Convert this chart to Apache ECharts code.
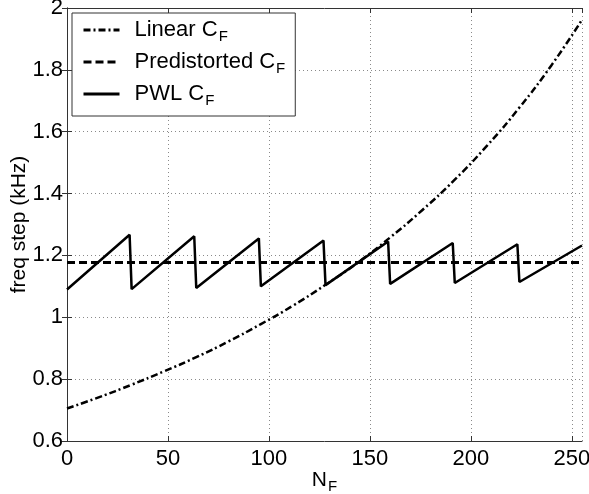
<!DOCTYPE html>
<html>
<head>
<meta charset="utf-8">
<script src="https://cdn.jsdelivr.net/npm/echarts@6/dist/echarts.min.js"></script>
<style>html,body{margin:0;padding:0;background:#fff}#c{width:589px;height:494px}</style>
</head>
<body>
<div id="c"></div>
<script>
// x positions (N_F) and values (freq step, kHz)
var linearX = [0,16,32,48,64,80,96,112,128,144,160,176,192,208,224,240,255];
var linearY = [0.705,0.742,0.782,0.825,0.871,0.922,0.978,1.038,1.105,1.177,1.258,1.347,1.445,1.555,1.678,1.816,1.962];
var predistX = [0,255];
var predistY = [1.177,1.177];
var pwlX = [0,31,32,63,64,95,96,127,128,159,160,191,192,223,224,255];
var pwlY = [1.090,1.267,1.091,1.262,1.095,1.255,1.100,1.248,1.104,1.245,1.108,1.240,1.111,1.236,1.114,1.232];
var xTicks = [0,50,100,150,200,250];
var yTicks = [0.6,0.8,1,1.2,1.4,1.6,1.8,2];
var names = ['Linear', 'Predistorted', 'PWL'];

function zip(xs, ys){ return xs.map(function(x,i){ return [x, ys[i]]; }); }

var FONT = 'Liberation Sans, Arial, Helvetica, sans-serif';
var chart = echarts.init(document.getElementById('c'), null, {renderer:'canvas'});
var gridLine = {show:true, lineStyle:{color:'#8a8a8a', width:1, type:[1,3]}};
var axisLine = {show:true, lineStyle:{color:'#333', width:1}};
chart.setOption({
  animation:false,
  backgroundColor:'#fff',
  grid:{left:67, right:7, top:8, bottom:53, containLabel:false, outerBoundsMode:'none'},
  legend:{
    orient:'vertical', left:72, top:13,
    data:names,
    backgroundColor:'#fff', borderColor:'#333', borderWidth:1,
    padding:[6,10,8,10],
    itemWidth:36, itemHeight:14, itemGap:7,
    itemStyle:{opacity:0},
    lineStyle:{width:3},
    formatter:function(n){ return '{t|' + n + ' C}{s|F}'; },
    textStyle:{color:'#000', fontFamily:FONT, fontSize:22, padding:[0,0,0,10],
      rich:{t:{fontSize:22, fontFamily:FONT, color:'#000'},
            s:{fontSize:15, fontFamily:FONT, color:'#000', padding:[13,0,0,1]}}}
  },
  xAxis:[{
    type:'value', min:0, max:255, interval:50,
    name:'{n|N}{s|F}', nameLocation:'middle', nameGap:25, nameMoveOverlap:false,
    nameTextStyle:{rich:{n:{fontSize:21, fontFamily:FONT, color:'#000'}, s:{fontSize:15, fontFamily:FONT, color:'#000', padding:[13,0,0,1]}}},
    axisLine:axisLine, axisTick:{show:true, inside:true, length:5, lineStyle:{color:'#333'}},
    axisLabel:{color:'#000', fontSize:22, fontFamily:FONT, margin:7,
      formatter:function(v){return String(v);}},
    splitLine:gridLine
  },{
    type:'value', position:'top', min:0, max:255, interval:50,
    axisLine:axisLine, axisTick:{show:true, inside:true, length:5, lineStyle:{color:'#333'}},
    axisLabel:{show:false}, splitLine:{show:false}
  }],
  yAxis:[{
    type:'value', min:0.6, max:2, interval:0.2,
    name:'freq step (kHz)', nameLocation:'middle', nameGap:37, nameRotate:90, nameMoveOverlap:false,
    nameTextStyle:{fontSize:21, fontFamily:FONT, color:'#000'},
    axisLine:axisLine, axisTick:{show:true, inside:true, length:5, lineStyle:{color:'#333'}},
    axisLabel:{color:'#000', fontSize:22, fontFamily:FONT, margin:4,
      formatter:function(v){ var r=Math.round(v*10)/10; return String(r); }},
    splitLine:gridLine
  },{
    type:'value', position:'right', min:0.6, max:2, interval:0.2,
    axisLine:axisLine, axisTick:{show:true, inside:true, length:5, lineStyle:{color:'#333'}},
    axisLabel:{show:false}, splitLine:{show:false}
  }],
  series:[{
    name:'Linear', type:'line', data:zip(linearX, linearY), smooth:true, symbol:'none',
    lineStyle:{color:'#000', width:2.5, type:[7,3,2,3]}, itemStyle:{color:'#000'}
  },{
    name:'Predistorted', type:'line', data:zip(predistX, predistY), symbol:'none',
    lineStyle:{color:'#000', width:3, type:[8,4]}, itemStyle:{color:'#000'}
  },{
    name:'PWL', type:'line', data:zip(pwlX, pwlY), symbol:'none',
    lineStyle:{color:'#000', width:2.5, type:'solid'}, itemStyle:{color:'#000'}
  }]
});
</script>
</body>
</html>
